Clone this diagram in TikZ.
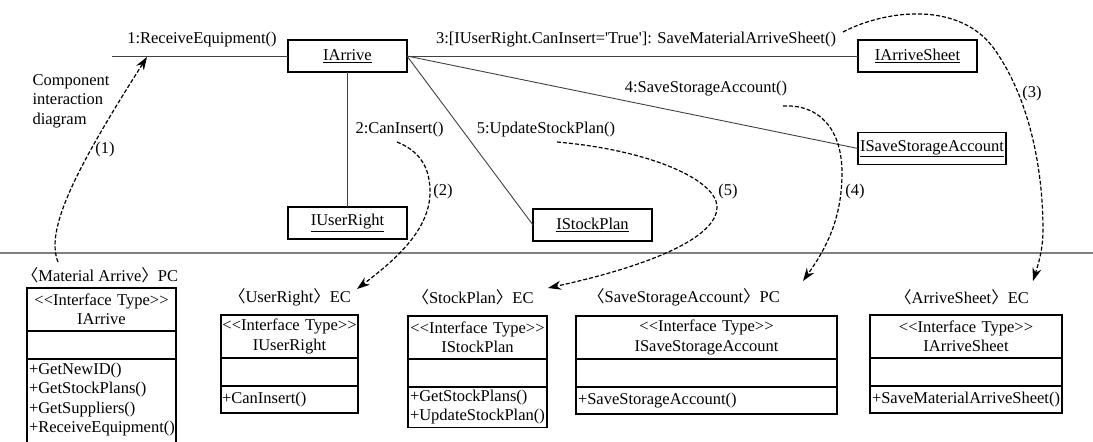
\documentclass[tikz,border=0pt]{standalone}
\usepackage{fontspec}
\setmainfont{Liberation Serif}
\newfontfamily\cjk{Noto Sans CJK SC}
\usetikzlibrary{arrows.meta,positioning}

\newcommand{\ltag}{{\cjk 〈}}
\newcommand{\rtag}{{\cjk 〉}}
\newcommand{\stereo}{\mbox{<\kern0pt<Interface Type>\kern0pt>}}

\begin{document}
\begin{tikzpicture}[x=1pt,y=-1pt,>={Stealth[length=13pt,width=9pt]},
  every node/.style={font=\fontsize{16.5}{19.5}\selectfont},
  obj/.style={draw,line width=1.2pt,minimum width=119,minimum height=32,inner sep=2pt,outer sep=0pt},
  link/.style={draw=black!75,line width=0.9pt},
  flow/.style={->,line width=1.2pt,dash pattern=on 4pt off 2pt},
  cls/.style={draw,line width=1.2pt,inner xsep=2pt,inner ysep=3pt,outer sep=0pt},
  ctitle/.style={cls,align=center,minimum height=43},
  cempty/.style={cls,minimum height=28},
  cmeth/.style={cls,align=left,minimum height=27},
  node distance=0pt]

  \useasboundingbox (0,0) rectangle (1093,442);

  % component interaction diagram
  \node[obj] (arr) at (347.5,56) {\underline{IArrive}};
  \node[obj] (usr) at (347.5,223) {\underline{IUserRight}};
  \node[obj] (stk) at (592.5,225) {\underline{IStockPlan}};
  \node[obj] (sht) at (917.5,56) {\underline{IArriveSheet}};
  \node[obj,minimum width=148] (sav) at (932,148.5) {\underline{ISaveStorageAccount}};
  \coordinate (in) at (112,56);

  \draw[link] (in) -- (arr.west);
  \draw[link] (arr) -- (usr);
  \draw[link] (arr.east) -- (stk.west);
  \draw[link] (arr.east) -- (sav.west);
  \draw[link] (arr.east) -- (sht.west);

  \node (m1) at (202,40) {1:ReceiveEquipment()};
  \node (m2) [anchor=west] at (352,130) {2:CanInsert()};
  \node (m3) at (636,40) {3:[IUserRight.CanInsert=\textquotesingle True\textquotesingle]: SaveMaterialArriveSheet()};
  \node (m4) at (706,89) {4:SaveStorageAccount()};
  \node (m5) at (546,130) {5:UpdateStockPlan()};
  \node[align=left,anchor=north west] (cap) at (29,71) {Component\\interaction\\diagram};

  \draw[gray,line width=1.5pt] (0,253) -- (1093,253);

  % interface classes
  \node[ctitle,text width=145pt,anchor=north west] (ca) at (27,288) {\stereo\\IArrive};
  \node[cempty,text width=145pt,below=of ca] (ca2) {};
  \node[cmeth,text width=145pt,inner ysep=4pt,below=of ca2] (ca3) {+GetNewID()\\+GetStockPlans()\\+GetSuppliers()\\+ReceiveEquipment()\\[-8pt]\mbox{}};

  \node[ctitle,text width=135pt,inner xsep=1pt,anchor=north west] (cu) at (221,315) {\stereo\\IUserRight};
  \node[cempty,text width=135pt,inner xsep=1pt,below=of cu] (cu2) {};
  \node[cmeth,text width=135pt,inner xsep=1pt,below=of cu2] (cu3) {+CanInsert()};

  \node[ctitle,text width=135pt,anchor=north west] (cs) at (408,316) {\stereo\\IStockPlan};
  \node[cempty,text width=135pt,below=of cs] (cs2) {};
  \node[cmeth,text width=135pt,below=of cs2] (cs3) {+GetStockPlans()\\+UpdateStockPlan()};

  \node[ctitle,text width=257pt,anchor=north west] (cv) at (576,316) {\stereo\\ISaveStorageAccount};
  \node[cempty,text width=257pt,below=of cv] (cv2) {};
  \node[cmeth,text width=257pt,below=of cv2] (cv3) {+SaveStorageAccount()};

  \node[ctitle,text width=188pt,anchor=north west] (ch) at (870,315) {\stereo\\IArriveSheet};
  \node[cempty,text width=188pt,below=of ch] (ch2) {};
  \node[cmeth,text width=188pt,below=of ch2] (ch3) {+SaveMaterialArriveSheet()};

  \node (pa) at (100,275) {\ltag Material Arrive\rtag PC};
  \node (pu) at (290,297) {\ltag UserRight\rtag EC};
  \node (ps) at (473,297) {\ltag StockPlan\rtag EC};
  \node (pv) at (684,297) {\ltag SaveStorageAccount\rtag PC};
  \node (ph) at (962,297) {\ltag ArriveSheet\rtag EC};

  % mapping arrows
  \coordinate (f1a) at (58,262);  \coordinate (f1b) at (147,57);
  \coordinate (f2a) at (397,142); \coordinate (f2b) at (357,289);
  \coordinate (f3a) at (843,32);  \coordinate (f3b) at (1033,281);
  \coordinate (f4a) at (783,106); \coordinate (f4b) at (803,281);
  \coordinate (f5a) at (557,142); \coordinate (f5b) at (548,288);

  \draw[flow] (f1a) .. controls (45,230) and (75,170) .. (f1b);
  \draw[flow] (f2a) .. controls (422,152) and (430,170) .. (430,192)
                    .. controls (430,230) and (395,260) .. (f2b);
  \draw[flow] (f5a) .. controls (650,150) and (717,180) .. (717,207)
                    .. controls (717,240) and (640,268) .. (f5b);
  \draw[flow] (f4a) .. controls (820,104) and (842,130) .. (842,173)
                    .. controls (842,220) and (825,250) .. (f4b);
  \draw[flow] (f3a) .. controls (885,10) and (960,0) .. (995,50)
                    .. controls (1030,100) and (1043,170) .. (1043,230)
                    .. controls (1043,250) and (1038,265) .. (f3b);

  \node (n1) at (105,150) {(1)};
  \node (n2) at (443,192) {(2)};
  \node (n3) at (1032,94) {(3)};
  \node (n4) at (855,192) {(4)};
  \node (n5) at (728,192) {(5)};
\end{tikzpicture}
\end{document}
